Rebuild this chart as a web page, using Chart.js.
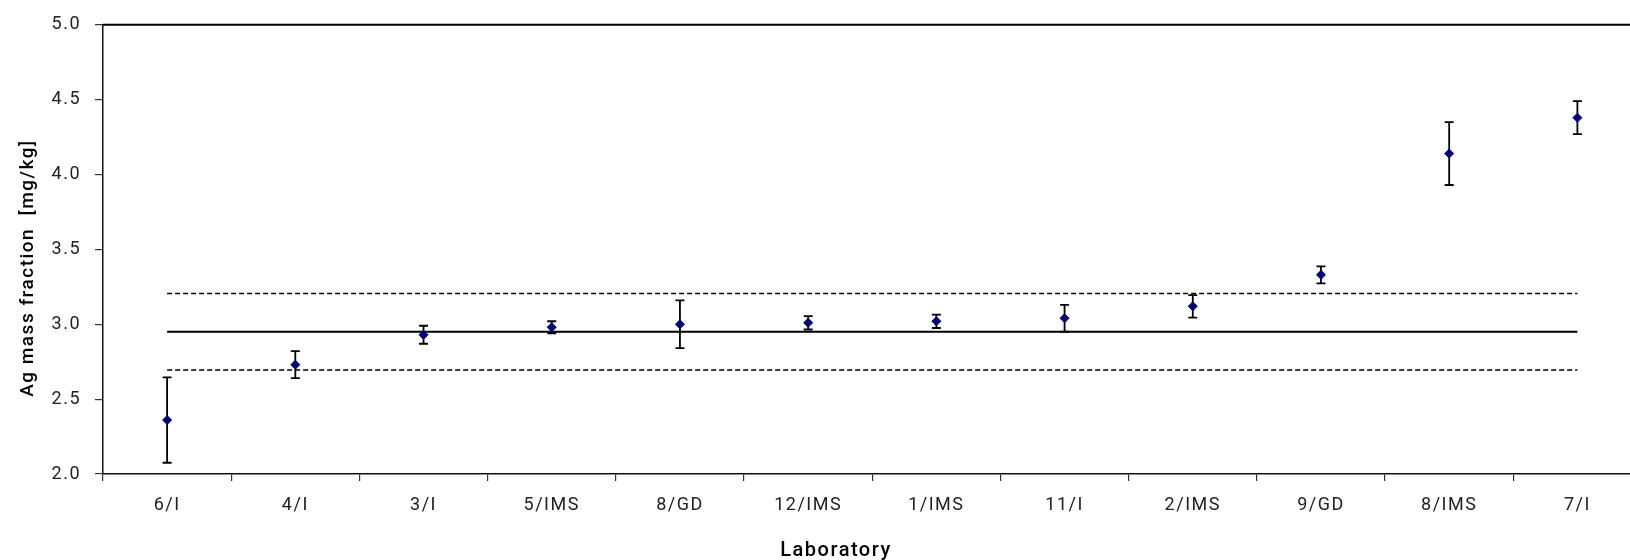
<!DOCTYPE html>
<html>
<head>
<meta charset="utf-8">
<script src="https://cdn.jsdelivr.net/npm/chart.js@4.4.0/dist/chart.umd.min.js"></script>
<style>
  html, body { margin: 0; padding: 0; background: #fff; overflow: hidden; }
  .ContainerGrafico { position: relative; width: 1647px; height: 560px; }
</style>
</head>
<body>
<div class="ContainerGrafico">
  <canvas id="grafico"></canvas>
</div>
<script>
// laboratories, sorted by result
const laboratorios = ['6/I', '4/I', '3/I', '5/IMS', '8/GD', '12/IMS', '1/IMS', '11/I', '2/IMS', '9/GD', '8/IMS', '7/I'];
// Ag mass fraction [mg/kg]
const valores = [2.36, 2.73, 2.93, 2.98, 3.00, 3.01, 3.02, 3.04, 3.12, 3.33, 4.14, 4.38];
// expanded uncertainty (+/-)
const incertezas = [0.285, 0.09, 0.06, 0.04, 0.16, 0.045, 0.045, 0.09, 0.075, 0.057, 0.21, 0.11];
// reference value and its limits
const valorReferencia = 2.95;
const limiteSuperior = 3.205;
const limiteInferior = 2.695;
const yTicks = [2.0, 2.5, 3.0, 3.5, 4.0, 4.5, 5.0];

const fonte = 'Roboto, "DejaVu Sans", sans-serif';

// draws the error bars through the y scale, just before the points
const errorBars = {
    id: 'errorBars',
    beforeDatasetDraw(chart, args) {
        if (args.index !== 0) return;
        const ctx = chart.ctx;
        const x = chart.scales.x;
        const y = chart.scales.y;
        ctx.save();
        ctx.strokeStyle = '#000';
        ctx.lineWidth = 1.8;
        valores.forEach((v, i) => {
            const px = x.getPixelForValue(i);
            const top = y.getPixelForValue(v + incertezas[i]);
            const bot = y.getPixelForValue(v - incertezas[i]);
            ctx.beginPath();
            ctx.moveTo(px, top); ctx.lineTo(px, bot);
            ctx.moveTo(px - 4.5, top); ctx.lineTo(px + 4.5, top);
            ctx.moveTo(px - 4.5, bot); ctx.lineTo(px + 4.5, bot);
            ctx.stroke();
        });
        ctx.restore();
    }
};

// top edge of the plot frame
const topFrame = {
    id: 'topFrame',
    afterDraw(chart) {
        const { ctx, chartArea } = chart;
        ctx.save();
        ctx.strokeStyle = '#000';
        ctx.lineWidth = 2;
        ctx.beginPath();
        ctx.moveTo(chartArea.left, chartArea.top);
        ctx.lineTo(chartArea.right + 5, chartArea.top);
        ctx.stroke();
        ctx.restore();
    }
};

// letter spacing like the original typeface
const espacamento = {
    id: 'espacamento',
    beforeDraw(chart) { chart.ctx.letterSpacing = '1.5px'; }
};

const config = {
    type: 'line',
    data: {
        labels: laboratorios,
        datasets: [{
            label: 'Ag',
            data: valores,
            showLine: false,
            pointStyle: 'rectRot',
            pointRadius: 4.5,
            backgroundColor: '#000080',
            borderColor: '#000080',
            borderWidth: 1
        },
        {
            label: 'ref',
            data: laboratorios.map(() => valorReferencia),
            borderColor: '#000',
            borderWidth: 2,
            pointRadius: 0
        },
        {
            label: 'sup',
            data: laboratorios.map(() => limiteSuperior),
            borderColor: '#000',
            borderWidth: 1.5,
            borderDash: [5, 3],
            pointRadius: 0
        },
        {
            label: 'inf',
            data: laboratorios.map(() => limiteInferior),
            borderColor: '#000',
            borderWidth: 1.5,
            borderDash: [5, 3],
            pointRadius: 0
        }]
    },
    options: {
        responsive: true,
        maintainAspectRatio: false,
        animation: false,
        layout: { padding: { left: 25, top: 21, right: 0, bottom: 0 } },
        plugins: {
            legend: { display: false },
            tooltip: { enabled: false },
            title: {
                display: true,
                position: 'bottom',
                text: 'Laboratory',
                color: '#000',
                font: { family: fonte, size: 20, weight: '500', lineHeight: 0.95 },
                padding: 0
            }
        },
        scales: {
            x: {
                type: 'category',
                offset: true,
                afterFit: (s) => { s.height = 67; },
                grid: { offset: true, drawOnChartArea: false, tickLength: 7, color: '#333', lineWidth: 1.2 },
                border: { color: '#111', width: 1.5 },
                ticks: {
                    autoSkip: false, maxRotation: 0, padding: 14,
                    color: '#222', font: { family: fonte, size: 18 }
                }
            },
            y: {
                min: 2, max: 5,
                afterFit: (s) => { s.width = 78; },
                afterBuildTicks: (s) => { s.ticks = yTicks.map(v => ({ value: v })); },
                grid: { drawOnChartArea: false, tickLength: 8, color: '#333', lineWidth: 1.2 },
                border: { color: '#111', width: 1.5 },
                ticks: {
                    padding: 14, color: '#222', font: { family: fonte, size: 18 },
                    callback: (v) => Number(v).toFixed(1)
                },
                title: {
                    display: true,
                    text: 'Ag mass fraction  [mg/kg]      ',
                    color: '#000',
                    font: { family: fonte, size: 19, weight: '500' },
                    padding: { top: -8, bottom: 0 }
                }
            }
        }
    },
    plugins: [errorBars, topFrame, espacamento]
};

new Chart(document.getElementById('grafico'), config);
</script>
</body>
</html>
